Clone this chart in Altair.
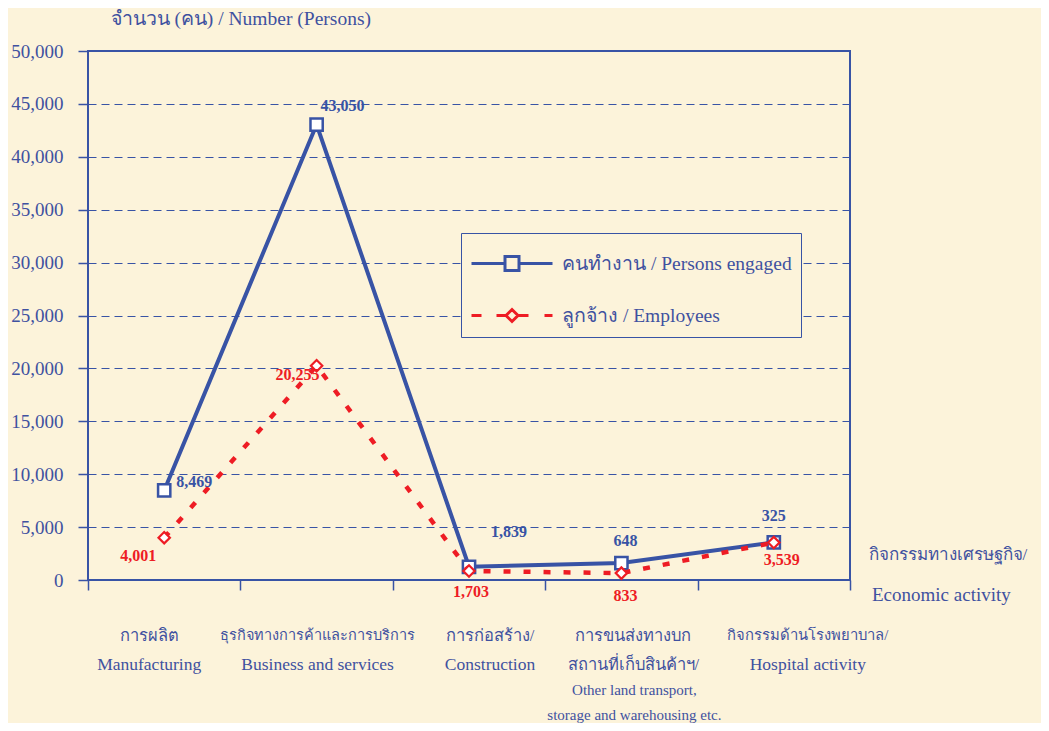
import altair as alt
import pandas as pd

# ---------------- data ----------------
cat_keys = ["mfg", "biz", "con", "trn", "hos"]
label_line1 = ["การผลิต", "ธุรกิจทางการค้าและการบริการ", "การก่อสร้าง/", "การขนส่งทางบก", "กิจกรรมด้านโรงพยาบาล/"]
label_line2 = ["Manufacturing", "Business and services", "Construction", "สถานที่เก็บสินค้าฯ/", "Hospital activity"]
label_extra = ["", "", "", "Other land transport,\nstorage and warehousing etc.", ""]

series_names = ["คนทำงาน / Persons engaged", "ลูกจ้าง / Employees"]
persons_engaged = [8469, 43050, 1250, 1600, 3550]
employees = [4001, 20255, 850, 650, 3539]
persons_labels = ["8,469", "43,050", "1,839", "648", "325"]
employees_labels = ["4,001", "20,255", "1,703", "833", "3,539"]

y_title = "จำนวน (คน) / Number  (Persons)"
x_title_th = "กิจกรรมทางเศรษฐกิจ/"
x_title_en = "Economic activity"

# ---------------- style ----------------
BLUE = "#3853a5"
RED = "#ee1c24"
TEXT = "#3f51a0"
BG = "#fcf3da"
FONT = "Liberation Serif"

blue_dx = [30, 26, 40, 4, 0]
blue_dy = [-8, -19, -35, -22, -26]
red_dx = [-26, -19, 2, 4, 8]
red_dy = [18, 9, 21, 23, 17]
cat_dx = [-15, 1, 21, 12, 34]
line1_size = [16.5, 14.5, 16.5, 16.5, 14.8]
line2_size = [17.5, 17.5, 17.5, 16.5, 17.5]

# legend symbols (unit = 10px, drawn from the symbol's left edge rightwards)
blue_symbol = "M-1,0H2.35M3.75,0H7.1M2.35,-0.7H3.75V0.7H2.35Z"
red_symbol = ("M-1,0H0M1.5,0H2.45M2.45,0L3.05,-0.6L3.65,0L3.05,0.6Z"
              "M3.65,0H4.7M6.3,0H7.1")

rows = []
for i, k in enumerate(cat_keys):
    rows.append({"cat": k, "series": series_names[0], "value": persons_engaged[i], "label": persons_labels[i]})
    rows.append({"cat": k, "series": series_names[1], "value": employees[i], "label": employees_labels[i]})
df = pd.DataFrame(rows)

cat_df = pd.DataFrame({
    "cat": cat_keys,
    "line1": label_line1,
    "line2": label_line2,
    "extra": label_extra,
})

x_enc = alt.X(
    "cat:N",
    sort=cat_keys,
    scale=alt.Scale(domain=cat_keys, paddingInner=0, paddingOuter=0),
    axis=alt.Axis(
        labels=False, tickBand="extent", ticks=True, tickSize=10, tickColor=BLUE,
        tickWidth=1.5, domain=False, grid=False,
        title=x_title_th, titleX=780, titleY=-21, titleAlign="left",
        titleBaseline="alphabetic", titleAngle=0,
        titleFont=FONT, titleFontSize=17, titleFontWeight="normal", titleColor=TEXT,
        titleLimit=300,
    ),
)
y_enc = alt.Y(
    "value:Q",
    scale=alt.Scale(domain=[0, 50000], nice=False),
    axis=alt.Axis(
        values=list(range(0, 50001, 5000)), format=",d", tickSize=10, tickColor=BLUE,
        tickWidth=1.5, grid=True, gridDash=[8, 5], gridColor=BLUE, gridWidth=1,
        domain=False, labelFont=FONT, labelFontSize=19, labelColor=TEXT,
        labelPadding=15, title=y_title, titleAngle=0, titleX=22, titleY=-27,
        titleAlign="left", titleBaseline="alphabetic", titleFont=FONT,
        titleFontSize=19.5, titleFontWeight="normal", titleColor=TEXT,
    ),
)

base = alt.Chart(df)
s0 = alt.datum.series == series_names[0]
s1 = alt.datum.series == series_names[1]

blue_line = base.transform_filter(s0).mark_line(color=BLUE, strokeWidth=4).encode(x=x_enc, y=y_enc)
red_line = base.transform_filter(s1).mark_line(color=RED, strokeWidth=4.5, strokeDash=[7, 13]).encode(x=x_enc, y=y_enc)
blue_pts = base.transform_filter(s0).mark_point(
    shape="square", filled=True, fill="white", stroke=BLUE, strokeWidth=2.5, size=150, opacity=1
).encode(x=x_enc, y=y_enc)
red_pts = base.transform_filter(s1).mark_point(
    shape="diamond", filled=True, fill="white", stroke=RED, strokeWidth=2.2, size=130, opacity=1
).encode(x=x_enc, y=y_enc)

legend = alt.Legend(
    orient="none", legendX=373, legendY=182, title=" ", titleFontSize=1, titlePadding=9,
    symbolSize=400, symbolStrokeWidth=3, symbolFillColor="white", symbolOpacity=1,
    labelFont=FONT, labelFontSize=19.5, labelColor=TEXT, labelLimit=400, labelOffset=69,
    rowPadding=26, padding=9, strokeColor=BLUE, fillColor=BG,
)
legend_layer = base.mark_point(opacity=0, filled=False).encode(
    x=x_enc, y=y_enc,
    shape=alt.Shape("series:N", scale=alt.Scale(domain=series_names, range=[blue_symbol, red_symbol]), legend=legend),
    stroke=alt.Stroke("series:N", scale=alt.Scale(domain=series_names, range=[BLUE, RED]), legend=legend),
)

layers = [blue_line, blue_pts, red_line, red_pts, legend_layer]

# English part of the economic-activity axis caption
layers.append(
    alt.Chart(pd.DataFrame({"t": [x_title_en]}))
    .mark_text(font=FONT, fontSize=19, color=TEXT, align="left", baseline="alphabetic")
    .encode(x=alt.value(784), y=alt.value(550), text="t:N")
)

for i, k in enumerate(cat_keys):
    layers.append(
        base.transform_filter((alt.datum.cat == k) & s0)
        .mark_text(font=FONT, fontSize=16, fontWeight="bold", color=BLUE,
                   dx=blue_dx[i], dy=blue_dy[i], baseline="middle", align="center")
        .encode(x=x_enc, y=y_enc, text="label:N")
    )
    layers.append(
        base.transform_filter((alt.datum.cat == k) & s1)
        .mark_text(font=FONT, fontSize=16, fontWeight="bold", color=RED,
                   dx=red_dx[i], dy=red_dy[i], baseline="middle", align="center")
        .encode(x=x_enc, y=y_enc, text="label:N")
    )
    cbase = alt.Chart(cat_df).transform_filter(alt.datum.cat == k)
    layers.append(
        cbase.mark_text(font=FONT, fontSize=line1_size[i], color=TEXT,
                        baseline="middle", align="center", dx=cat_dx[i])
        .encode(x=x_enc, y=alt.value(585), text="line1:N")
    )
    layers.append(
        cbase.mark_text(font=FONT, fontSize=line2_size[i], color=TEXT,
                        baseline="middle", align="center", dx=cat_dx[i])
        .encode(x=x_enc, y=alt.value(614), text="line2:N")
    )
    if label_extra[i]:
        layers.append(
            cbase.mark_text(font=FONT, fontSize=15, color=TEXT, lineBreak="\n", lineHeight=25,
                            baseline="middle", align="center", dx=cat_dx[i] + 1)
            .encode(x=x_enc, y=alt.value(639), text="extra:N")
        )

chart = alt.layer(*layers).properties(
    width=762, height=529,
    autosize=alt.AutoSizeParams(type="none"),
    padding={"left": 80, "top": 43, "right": 191, "bottom": 143},
    background=BG,
).configure_view(stroke=BLUE, strokeWidth=2)

chart.save("out.html", embed_options={"renderer": "svg", "actions": False})
